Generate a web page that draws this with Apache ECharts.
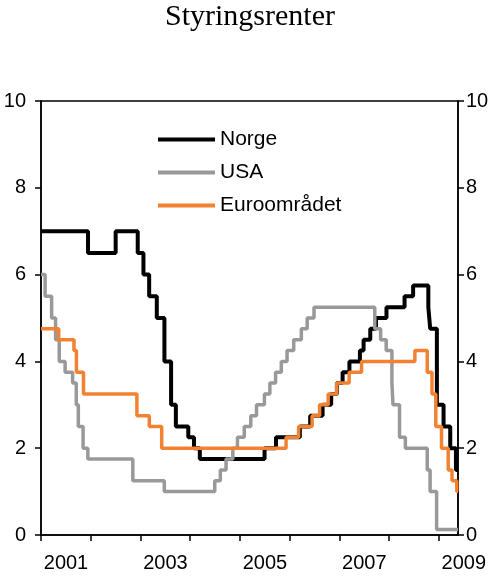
<!DOCTYPE html>
<html>
<head>
<meta charset="utf-8">
<script src="https://cdn.jsdelivr.net/npm/echarts@6/dist/echarts.min.js"></script>
<style>
  html, body { margin: 0; padding: 0; background: #fff; }
  #chart { width: 500px; height: 581px; }
</style>
</head>
<body>
<div id="chart"></div>
<script>
// dates when a new rate took effect, and the rate from that date
const norgeDates = ['2001-01-01', '2001-12-12', '2002-07-03', '2002-12-12', '2003-01-23', '2003-03-06',
    '2003-05-01', '2003-06-26', '2003-08-14', '2003-09-18', '2003-12-18', '2004-01-29', '2004-03-12',
    '2005-07-01', '2005-09-23', '2006-03-17', '2006-06-01', '2006-08-31', '2006-11-02', '2006-12-14',
    '2007-01-25', '2007-03-16', '2007-06-01', '2007-06-28', '2007-08-16', '2007-09-27', '2007-12-13',
    '2008-04-24', '2008-06-26', '2008-10-16', '2008-10-30', '2008-12-18', '2009-02-05', '2009-03-26',
    '2009-05-07', '2009-05-22'];
const norgeRates = [7, 6.5, 7, 6.5, 6, 5.5,
    5, 4, 3, 2.5, 2.25, 2, 1.75,
    2, 2.25, 2.5, 2.75, 3, 3.25, 3.5,
    3.75, 4, 4.25, 4.5, 4.75, 5, 5.25,
    5.5, 5.75, 5.25, 4.75, 3, 2.5, 2,
    1.5, 1.5];

const usaDates = ['2001-01-01', '2001-01-31', '2001-03-20', '2001-04-18', '2001-05-15', '2001-06-27',
    '2001-08-21', '2001-09-17', '2001-10-02', '2001-11-06', '2001-12-11', '2002-11-06', '2003-06-25',
    '2004-06-30', '2004-08-10', '2004-09-21', '2004-11-10', '2004-12-14', '2005-02-02', '2005-03-22',
    '2005-05-03', '2005-06-30', '2005-08-09', '2005-09-20', '2005-11-01', '2005-12-13', '2006-01-31',
    '2006-03-28', '2006-05-10', '2006-06-29', '2007-09-18', '2007-10-31', '2007-12-11', '2008-01-22',
    '2008-01-30', '2008-03-18', '2008-04-30', '2008-10-08', '2008-10-29', '2008-12-16', '2009-05-22'];
const usaRates = [6, 5.5, 5, 4.5, 4, 3.75,
    3.5, 3, 2.5, 2, 1.75, 1.25, 1,
    1.25, 1.5, 1.75, 2, 2.25, 2.5, 2.75,
    3, 3.25, 3.5, 3.75, 4, 4.25, 4.5,
    4.75, 5, 5.25, 4.75, 4.5, 4.25, 3.5,
    3, 2.25, 2, 1.5, 1, 0.125, 0.125];

const euroDates = ['2001-01-01', '2001-05-11', '2001-08-31', '2001-09-18', '2001-11-09', '2002-12-06',
    '2003-03-07', '2003-06-06', '2005-12-06', '2006-03-08', '2006-06-15', '2006-08-09', '2006-10-11',
    '2006-12-13', '2007-03-14', '2007-06-13', '2008-07-09', '2008-10-08', '2008-11-12', '2008-12-10',
    '2009-01-21', '2009-03-11', '2009-04-08', '2009-05-13', '2009-05-22'];
const euroRates = [4.75, 4.5, 4.25, 3.75, 3.25, 2.75,
    2.5, 2, 2.25, 2.5, 2.75, 3, 3.25,
    3.5, 3.75, 4, 4.25, 3.75, 3.25, 2.5,
    2, 1.5, 1.25, 1, 1];

const yearTicks = [2001, 2002, 2003, 2004, 2005, 2006, 2007, 2008, 2009];
const yearLabels = ['2001', '2003', '2005', '2007', '2009'];
const yTicks = ['0', '2', '4', '6', '8', '10'];

function toYear(s) {
    let d = new Date(s + 'T00:00:00Z');
    let y = d.getUTCFullYear();
    let start = Date.UTC(y, 0, 1);
    let len = Date.UTC(y + 1, 0, 1) - start;
    return y + (d.getTime() - start) / len;
}

function pairs(dates, rates) {
    return dates.map((d, i) => [toYear(d), rates[i]]);
}

const font = 'Liberation Sans, Arial, sans-serif';
const xMin = 2001;
const xMax = toYear('2009-05-22');

let chart = echarts.init(document.getElementById('chart'));

function yAxis(pos, margin) {
    return {
        type: 'value',
        position: pos,
        min: 0,
        max: 10,
        interval: 2,
        axisLine: { show: true, lineStyle: { color: '#000', width: 1.5 } },
        axisTick: { show: true, length: 6, lineStyle: { color: '#000', width: 1.5 } },
        axisLabel: {
            margin: margin,
            color: '#000',
            fontSize: 20,
            fontFamily: font,
            formatter: v => yTicks.indexOf(String(v)) >= 0 ? String(v) : ''
        },
        splitLine: { show: false }
    };
}

function line(name, dates, rates, color, width) {
    return {
        name: name,
        type: 'line',
        step: 'end',
        symbol: 'none',
        data: pairs(dates, rates),
        lineStyle: { color: color, width: width },
        itemStyle: { color: color },
        animation: false
    };
}

chart.setOption({
    animation: false,
    title: {
        text: 'Styringsrenter',
        left: 'center',
        top: -3,
        textStyle: {
            fontFamily: 'Liberation Serif, Times New Roman, serif',
            fontWeight: 'normal',
            fontSize: 30,
            color: '#000'
        }
    },
    legend: {
        orient: 'vertical',
        left: 153,
        top: 124,
        icon: 'rect',
        itemWidth: 57,
        itemHeight: 4,
        itemGap: 12,
        textStyle: { fontSize: 21, fontFamily: font, color: '#000' },
        data: ['Norge', 'USA', 'Euroområdet']
    },
    grid: {
        left: 41,
        right: 42,
        top: 101,
        bottom: 46,
        show: true,
        borderColor: '#000',
        borderWidth: 1.5
    },
    xAxis: {
        type: 'value',
        min: xMin,
        max: xMax,
        interval: 1,
        axisLine: { show: true, onZero: false, lineStyle: { color: '#000', width: 1.5 } },
        axisTick: { show: true, length: 6, customValues: yearTicks, lineStyle: { color: '#000', width: 1.5 } },
        axisLabel: {
            margin: 18,
            color: '#000',
            fontSize: 20,
            fontFamily: font,
            padding: [0, 0, 0, 50],
            formatter: v => {
                let s = String(Math.round(v));
                return Math.abs(v - Math.round(v)) < 1e-6 && yearLabels.indexOf(s) >= 0 ? s : '';
            }
        },
        splitLine: { show: false }
    },
    yAxis: [yAxis('left', 15), yAxis('right', 8)],
    series: [
        line('Norge', norgeDates, norgeRates, '#000000', 4),
        line('USA', usaDates, usaRates, '#999999', 3.5),
        line('Euroområdet', euroDates, euroRates, '#f28232', 3.5)
    ]
});
</script>
</body>
</html>
